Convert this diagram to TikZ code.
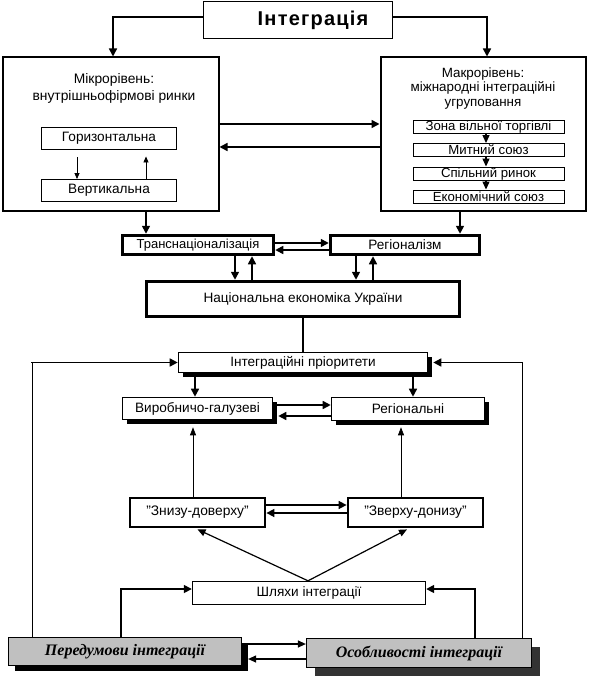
\documentclass[tikz,border=0pt]{standalone}
\usepackage{fontspec}
\setmainfont{Liberation Sans}
\newfontfamily\serifbi{Liberation Serif}
\usetikzlibrary{arrows.meta,shadows,calc}
\begin{document}
\begin{tikzpicture}[x=1pt,y=-1pt,
  every node/.style={inner sep=0pt, align=center},
  bx/.style={draw, rectangle, font=\fontsize{13.6}{15}\selectfont},
  small/.style={bx, line width=0.9pt, font=\fontsize{13.2}{14}\selectfont},
  shad/.style={drop shadow={shadow xshift=4pt, shadow yshift=-4pt, fill=black, opacity=1}},
  arr/.style={line width=1.6pt, -{Triangle[length=8pt,width=8pt]}},
  marr/.style={line width=1.2pt, -{Triangle[length=8pt,width=7pt]}},
  sarr/.style={line width=0.8pt, -{Triangle[length=6pt,width=5pt]}},
  tarr/.style={line width=0.7pt, -{Triangle[length=8pt,width=6pt]}},
  plainline/.style={line width=1.6pt},
  thinline/.style={line width=0.8pt}]
\useasboundingbox (0,0) rectangle (590,676);
\fill[white] (0,0) rectangle (590,676);

% top
\node[bx, line width=1.3pt, minimum width=189pt, minimum height=37pt,
  font=\fontsize{20}{22}\selectfont\bfseries\addfontfeature{LetterSpace=6}] (integ) at (298,20) {\hspace*{30pt}Інтеграція};

\node[bx, line width=2pt, minimum width=216pt, minimum height=153pt] (micro) at (110.5,134) {};
\node[font=\fontsize{13.8}{17}\selectfont] (microlbl) at (114,88.5) {Мікрорівень:\\внутрішньофірмові ринки};
\node[bx, line width=0.9pt, minimum width=135pt, minimum height=22pt] (horiz) at (109,138) {Горизонтальна};
\node[bx, line width=0.9pt, minimum width=135pt, minimum height=22pt] (vert) at (109,190.5) {Вертикальна};

\node[bx, line width=2pt, minimum width=205pt, minimum height=153pt] (macro) at (483,134) {};
\node[font=\fontsize{13.4}{14.6}\selectfont] (macrolbl) at (483,88.5) {Макрорівень:\\міжнародні інтеграційні\\угруповання};
\node[small, minimum width=151pt, minimum height=12pt] (zona) at (488.5,127) {Зона вільної торгівлі};
\node[small, minimum width=151pt, minimum height=13pt] (mytny) at (488.5,150) {Митний союз};
\node[small, minimum width=151pt, minimum height=13pt] (spilny) at (488.5,173.5) {Спільний ринок};
\node[small, minimum width=151pt, minimum height=13pt] (ekon) at (488.5,196.5) {Економічний союз};

\node[bx, line width=3.5pt, minimum width=151pt, minimum height=19pt, font=\fontsize{13}{15}\selectfont] (trans) at (198,245) {Транснаціоналізація};
\node[bx, line width=3.5pt, minimum width=149pt, minimum height=19pt] (region) at (405,245) {Регіоналізм};
\node[bx, line width=3.5pt, minimum width=313pt, minimum height=35pt] (nat) at (303,299) {Національна економіка України};

\node[bx, shad, fill=white, line width=1.6pt, minimum width=249pt, minimum height=20pt] (prior) at (303,362.5) {Інтеграційні пріоритети};
\node[bx, shad, fill=white, line width=1.6pt, minimum width=150pt, minimum height=22pt] (vyrob) at (197.5,408.5) {Виробничо-галузеві};
\node[bx, shad, fill=white, line width=1.6pt, minimum width=153pt, minimum height=23pt] (regn) at (408,409) {Регіональні};

\node[bx, line width=2.8pt, minimum width=135pt, minimum height=29pt, font=\fontsize{13.8}{15}\selectfont] (znyzu) at (197.5,512.5) {"Знизу-доверху"};
\node[bx, line width=2.8pt, minimum width=135pt, minimum height=29pt, font=\fontsize{13.8}{15}\selectfont] (zverkhu) at (415.5,512.5) {"Зверху-донизу"};

\node[bx, line width=1.4pt, minimum width=233pt, minimum height=23pt] (shlyakhy) at (309,593) {Шляхи інтеграції};

\node[bx, line width=1.2pt, fill={rgb,255:red,192;green,192;blue,192},
  drop shadow={shadow xshift=6pt, shadow yshift=-5pt, fill=black, opacity=1},
  minimum width=233pt, minimum height=28pt,
  font=\fontsize{16}{18}\serifbi\bfseries\itshape] (pered) at (125,651.5) {Передумови інтеграції};
\node[bx, line width=1.2pt, fill={rgb,255:red,192;green,192;blue,192},
  drop shadow={shadow xshift=8pt, shadow yshift=-8pt, fill={rgb,255:red,51;green,51;blue,51}, opacity=1},
  minimum width=225pt, minimum height=29pt,
  font=\fontsize{16}{18}\serifbi\bfseries\itshape] (osob) at (419,653) {Особливості інтеграції};

% connectors top
\draw[arr] ([yshift=3pt]integ.west) -| ([xshift=2.5pt]micro.north);
\draw[arr] ([yshift=3pt]integ.east) -| ([xshift=4pt]macro.north);
\draw[arr] ([yshift=10pt]micro.east) -- ([yshift=10pt]macro.west);
\draw[arr] ([yshift=-13pt]macro.west) -- ([yshift=-13pt]micro.east);
\draw[sarr] ([xshift=-32pt,yshift=-8pt]horiz.south) -- ([xshift=-32pt]vert.north);
\draw[sarr] ([xshift=37pt]vert.north) -- ([xshift=37pt,yshift=-7pt]horiz.south);
\draw[marr] ([xshift=-2.5pt]zona.south) -- ([xshift=-2.5pt]mytny.north);
\draw[marr] ([xshift=-2.5pt]mytny.south) -- ([xshift=-2.5pt]spilny.north);
\draw[marr] ([xshift=-2.5pt]spilny.south) -- ([xshift=-2.5pt]ekon.north);

\draw[arr] ([xshift=35.5pt]micro.south) -- ([xshift=35.5pt]micro.south |- trans.north);
\draw[arr] ([xshift=-23pt]macro.south) -- ([xshift=-23pt]macro.south |- region.north);
\draw[arr] ([yshift=2pt]trans.east) -- ([yshift=2pt]region.west);
\draw[arr] ([yshift=-5pt]region.west) -- ([yshift=-5pt]trans.east);
\draw[arr] ([xshift=37pt]trans.south) -- ([xshift=37pt]trans.south |- nat.north);
\draw[arr] ([xshift=54pt]trans.south |- nat.north) -- ([xshift=54pt]trans.south);
\draw[arr] ([xshift=-49pt]region.south) -- ([xshift=-49pt]region.south |- nat.north);
\draw[arr] ([xshift=-32pt]region.south |- nat.north) -- ([xshift=-32pt]region.south);

\draw[plainline] (nat.south) -- (nat.south |- prior.north);
\draw[arr] ([xshift=-108pt]prior.south) -- ([xshift=-108pt]prior.south |- vyrob.north);
\draw[arr] ([xshift=110pt]prior.south) -- ([xshift=110pt]prior.south |- regn.north);
\draw[arr] ([xshift=4pt,yshift=3.5pt]vyrob.east) -- ([yshift=4pt]regn.west);
\draw[arr] ([yshift=-7pt]regn.west) -- ([xshift=5pt,yshift=-7.5pt]vyrob.east);

\draw[tarr, shorten >=7pt] ([xshift=-4.5pt]znyzu.north) -- ([xshift=-4.5pt]znyzu.north |- vyrob.south);
\draw[tarr, shorten >=6pt] ([xshift=-14.5pt]zverkhu.north) -- ([xshift=-14.5pt]zverkhu.north |- regn.south);
\draw[arr] ([yshift=7.5pt]znyzu.east) -- ([yshift=7.5pt]zverkhu.west);
\draw[arr] ([yshift=-0.5pt]zverkhu.west) -- ([yshift=-0.5pt]znyzu.east);

\draw[marr] ([xshift=-1pt]shlyakhy.north) -- ([yshift=-1pt]znyzu.south);
\draw[marr] ([xshift=-1pt]shlyakhy.north) -- ([xshift=-8.5pt,yshift=-1pt]zverkhu.south);

\draw[arr] ([xshift=-4pt]pered.north) |- ([yshift=4pt]shlyakhy.west);
\draw[arr] ([xshift=56pt]osob.north) |- ([yshift=4pt]shlyakhy.east);

\coordinate (pe) at ([xshift=6pt]pered.east);
\draw[marr] ([yshift=7.5pt]pered.east -| pe) -- ([yshift=7.5pt]pered.east -| osob.west);
\draw[marr] ([yshift=-6pt]osob.west) -- ([yshift=-6pt]osob.west -| pe);

\coordinate (pl) at ([xshift=-93pt]pered.north);
\coordinate (lc) at (pl |- prior.west);
\draw[thinline] (pl) -- (lc);
\draw[arr] ([xshift=-0.8pt]lc) -- (prior.west);
\coordinate (pr) at ([xshift=103pt]osob.north);
\coordinate (rc) at (pr |- prior.east);
\draw[thinline] (pr) -- (rc);
\draw[arr] ([xshift=0.8pt]rc) -- ([xshift=5pt]prior.east);
\end{tikzpicture}
\end{document}
